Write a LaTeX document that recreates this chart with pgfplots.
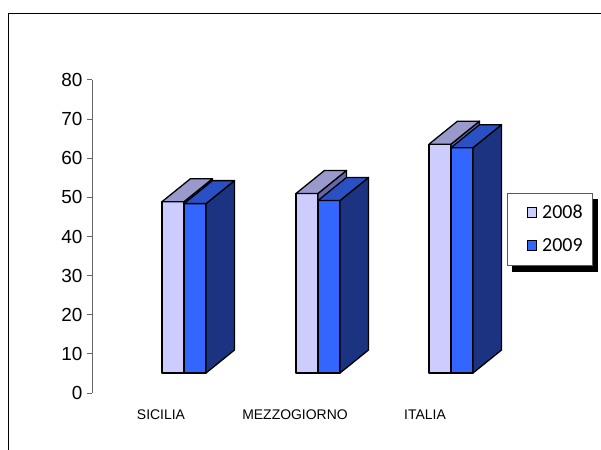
\documentclass[border=0pt]{standalone}
\usepackage{pgfplots}
\pgfplotsset{compat=1.18}
\usepackage{pgfplotstable}
\usetikzlibrary{backgrounds}
\usepackage{fontspec}
\setmainfont{Liberation Sans}
\newfontfamily\calfont{Carlito}

\definecolor{f08}{HTML}{CCCCFF}
\definecolor{t08}{HTML}{9999CC}
\definecolor{s08}{HTML}{6666AA}
\definecolor{f09}{HTML}{3366FF}
\definecolor{t09}{HTML}{2B50C4}
\definecolor{s09}{HTML}{1C3381}

\pgfplotstableread{
cat left v2008 v2009
SICILIA 162 48.9 48.4
MEZZOGIORNO 296 51.0 49.2
ITALIA 429 63.6 62.7
}\datatable

\def\base{5.11}
\def\dyv{5.88}
\def\dxp{28.5}
\def\bw{22}

\newcommand{\threedbar}[5]{%
  \pgfmathsetmacro\xa{#1}%
  \pgfmathsetmacro\xb{#1+\bw}%
  \pgfmathsetmacro\xc{#1+\bw+\dxp}%
  \pgfmathsetmacro\xd{#1+\dxp}%
  \pgfmathsetmacro\yt{#2}%
  \pgfmathsetmacro\ytb{#2+\dyv}%
  \pgfmathsetmacro\ybb{\base+\dyv}%
  \edef\tmp{\noexpand\addplot[forget plot, fill=#3, draw=black, line width=1.3pt, line join=round] coordinates {(\xa,\base) (\xb,\base) (\xb,\yt) (\xa,\yt)} -- cycle;}\tmp
  \edef\tmp{\noexpand\addplot[forget plot, fill=#5, draw=black, line width=1.3pt, line join=round] coordinates {(\xb,\base) (\xc,\ybb) (\xc,\ytb) (\xb,\yt)} -- cycle;}\tmp
  \edef\tmp{\noexpand\addplot[forget plot, fill=#4, draw=black, line width=1.3pt, line join=round] coordinates {(\xa,\yt) (\xb,\yt) (\xc,\ytb) (\xd,\ytb)} -- cycle;}\tmp
}

\begin{document}
\begin{tikzpicture}
\useasboundingbox (0,0) rectangle (601bp,450bp);
\draw[line width=1pt] (8.5bp,-2bp) -- (8.5bp,436.5bp) -- (605bp,436.5bp);
\begin{axis}[
  at={(92bp,57bp)}, anchor=south west,
  scale only axis, width=509bp, height=313bp,
  xmin=92, xmax=601, ymin=0, ymax=80,
  clip=false,
  axis y line*=left, axis x line*=bottom,
  x axis line style={draw=none},
  y axis line style={draw=gray!80!black, line width=1pt},
  ytick={0,10,...,80},
  xtick={161,295,425},
  xticklabels={SICILIA,MEZZOGIORNO,ITALIA},
  major x tick style={draw=none},
  major y tick style={draw=gray!80!black, line width=1pt},
  tick align=outside,
  major tick length=5bp,
  /pgf/number format/assume math mode=true,
  yticklabel style={font=\fontsize{19}{22}\selectfont, xshift=-1bp},
  xticklabel style={font=\fontsize{14}{16}\selectfont, yshift=-8bp},
  legend style={at={(axis description cs:0.815,0.639)}, anchor=north west,
    name=leg,
    draw=gray!70!black, line width=0.8pt, fill=white,
    font=\calfont\fontsize{20}{22}\selectfont,
    inner xsep=8bp, inner ysep=3bp, row sep=0bp},
  legend cell align=left,
  legend image code/.code={\path[draw=none, fill=none] (-12bp,-16.5bp) rectangle (13bp,16.5bp);
    \draw[#1, draw=black, line width=1pt] (0bp,-4.5bp) rectangle (9.5bp,5bp);},
]
\pgfplotsforeachungrouped \i in {0,1,2}{%
  \pgfplotstablegetelem{\i}{left}\of\datatable \let\L\pgfplotsretval
  \pgfplotstablegetelem{\i}{v2008}\of\datatable \let\A\pgfplotsretval
  \pgfplotstablegetelem{\i}{v2009}\of\datatable \let\B\pgfplotsretval
  \threedbar{\L}{\A}{f08}{t08}{s08}%
  \pgfmathsetmacro\Lb{\L+\bw}%
  \threedbar{\Lb}{\B}{f09}{t09}{s09}%
}
\addlegendimage{fill=f08}
\addlegendentry{2008}
\addlegendimage{fill=f09}
\addlegendentry{2009}
\end{axis}
\begin{scope}[on background layer]
\fill[black] ([shift={(5bp,-6bp)}]leg.south west) rectangle ([shift={(5bp,-6bp)}]leg.north east);
\end{scope}
\end{tikzpicture}
\end{document}
